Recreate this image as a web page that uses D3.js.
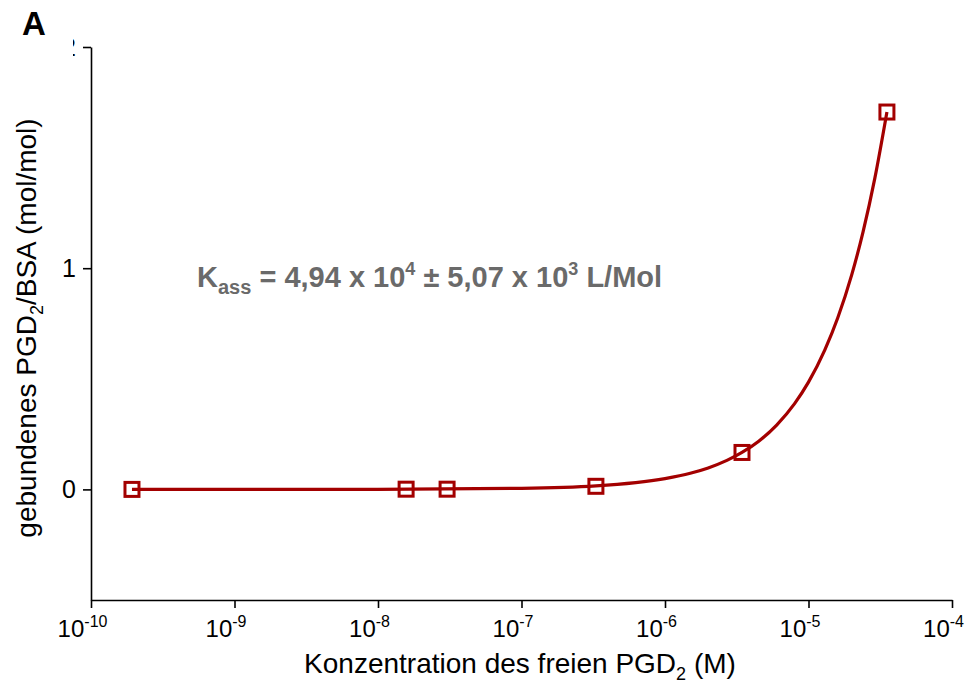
<!DOCTYPE html>
<html lang="de">
<head>
<meta charset="UTF-8">
<title>PGD2 / BSA Bindung</title>
<script src="https://cdn.jsdelivr.net/npm/d3@7"></script>
<style>
  body { margin: 0; background: #fff; }
  svg { display: block; font-family: "Liberation Sans", Arial, sans-serif; }
  .axis path, .axis line { stroke: #000; stroke-width: 1.6px; fill: none; }
  .axis text { fill: #000; }
</style>
</head>
<body>
<div id="chart"></div>
<script>
// measured points
var conc  = [1.93e-10, 1.57e-8, 3.03e-8, 3.30e-7, 3.44e-6, 3.52e-5];
var bound = [0, 0.001, 0.001, 0.014, 0.167, 1.706];

// fitted curve
var fitConc  = [1.93e-10, 1e-9, 1e-8, 1e-7, 3.3e-7, 1e-6, 1.5e-6, 2e-6, 2.7e-6, 3.44e-6, 4.5e-6, 6e-6, 8e-6, 1e-5, 1.3e-5, 1.6e-5, 2e-5, 2.4e-5, 2.9e-5, 3.52e-5];
var fitBound = [0, 0.00005, 0.0005, 0.005, 0.016, 0.049, 0.073, 0.097, 0.131, 0.167, 0.218, 0.291, 0.388, 0.485, 0.631, 0.776, 0.97, 1.164, 1.407, 1.706];

var xTickExp = [-10, -9, -8, -7, -6, -5, -4];
var yTicks = [0, 1, 2];

var W = 979, H = 686;
var red = "#a30000";

var svg = d3.select("#chart").append("svg")
  .attr("width", W).attr("height", H);

var x = d3.scaleLog().domain([1e-10, 1e-4]).range([91, 952]);
var y = d3.scaleLinear().domain([-0.5, 2]).range([600, 47]);

// x axis
var xAxis = d3.axisBottom(x)
  .tickValues(xTickExp.map(function (e) { return Math.pow(10, e); }))
  .tickSize(8).tickSizeOuter(0)
  .tickFormat(function () { return ""; });

var gx = svg.append("g").attr("class", "axis")
  .attr("transform", "translate(0,600)")
  .call(xAxis);

gx.selectAll(".tick text").each(function (d, i) {
  var t = d3.select(this).attr("dy", null).attr("y", 37).attr("dx", "-9px")
    .style("font-size", "24px");
  t.append("tspan").text("10");
  t.append("tspan").attr("dy", -10).style("font-size", "16px").text(xTickExp[i]);
});

// y axis
var gy = svg.append("g").attr("class", "axis")
  .attr("transform", "translate(91,0)")
  .call(d3.axisLeft(y).tickValues(yTicks).tickSize(8).tickSizeOuter(0).tickPadding(7).tickFormat(d3.format("d")));
gy.selectAll(".tick text").style("font-size", "25px");

// top label "2" is mostly cut off in the original
gy.append("clipPath").attr("id", "cut2")
  .append("rect").attr("x", -18).attr("y", -11).attr("width", 5).attr("height", 20);
gy.selectAll(".tick").filter(function (d) { return d === 2; })
  .select("text").attr("clip-path", "url(#cut2)");

// axis titles
var xt = svg.append("text")
  .attr("x", 520).attr("y", 673)
  .attr("text-anchor", "middle")
  .style("font-size", "28px");
xt.append("tspan").text("Konzentration des freien PGD");
xt.append("tspan").attr("dy", 7).style("font-size", "18px").text("2");
xt.append("tspan").attr("dy", -7).text(" (M)");

var yt = svg.append("text")
  .attr("transform", "translate(36,328) rotate(-90)")
  .attr("text-anchor", "middle")
  .style("font-size", "28px");
yt.append("tspan").text("gebundenes PGD");
yt.append("tspan").attr("dy", 7).style("font-size", "18px").text("2");
yt.append("tspan").attr("dy", -7).text("/BSA (mol/mol)");

// panel letter
svg.append("text").attr("x", 22).attr("y", 35)
  .style("font-size", "33px").style("font-weight", "bold").text("A");

// annotation
var ann = svg.append("text").attr("x", 197).attr("y", 287)
  .style("font-size", "29px").style("font-weight", "bold").attr("fill", "#6a6a6a");
ann.append("tspan").text("K");
ann.append("tspan").attr("dy", 7).style("font-size", "20px").text("ass");
ann.append("tspan").attr("dy", -7).text(" = 4,94 x 10");
ann.append("tspan").attr("dy", -12).style("font-size", "18px").text("4");
ann.append("tspan").attr("dy", 12).text(" \u00b1 5,07 x 10");
ann.append("tspan").attr("dy", -12).style("font-size", "18px").text("3");
ann.append("tspan").attr("dy", 12).text(" L/Mol");

// fit curve
var fit = fitConc.map(function (c, i) { return [c, fitBound[i]]; });
svg.append("path")
  .datum(fit)
  .attr("fill", "none")
  .attr("stroke", red)
  .attr("stroke-width", 3.2)
  .attr("d", d3.line()
    .x(function (d) { return x(d[0]); })
    .y(function (d) { return y(d[1]); })
    .curve(d3.curveMonotoneX));

// markers
var pts = conc.map(function (c, i) { return [c, bound[i]]; });
svg.selectAll(".pt").data(pts).enter().append("rect")
  .attr("class", "pt")
  .attr("x", function (d) { return x(d[0]) - 7; })
  .attr("y", function (d) { return y(d[1]) - 7; })
  .attr("width", 14).attr("height", 14)
  .attr("fill", "none")
  .attr("stroke", red)
  .attr("stroke-width", 3);
</script>
</body>
</html>
